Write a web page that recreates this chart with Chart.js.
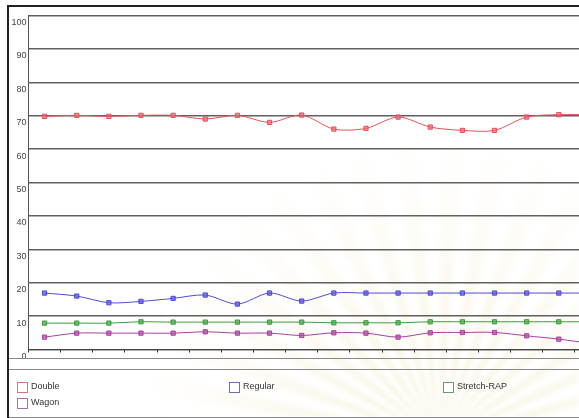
<!DOCTYPE html>
<html>
<head>
<meta charset="utf-8">
<script src="https://cdn.jsdelivr.net/npm/chart.js@4"></script>
<style>
    html, body {
        margin: 0;
        padding: 0;
        width: 579px;
        height: 418px;
        overflow: hidden;
        background: #fff;
        font-family: "Liberation Sans", Arial, sans-serif;
    }
    /* faint sunburst watermark behind the chart */
    #wash {
        position: absolute;
        left: 0;
        top: 0;
        width: 579px;
        height: 418px;
        filter: blur(2px);
        background: repeating-conic-gradient(from 0deg at 440px 440px, rgba(236, 222, 170, 0.32) 0deg 4deg, rgba(255, 255, 255, 0) 5deg 9deg);
        -webkit-mask-image: radial-gradient(circle at 440px 440px, rgba(0, 0, 0, 0.9) 60px, rgba(0, 0, 0, 0.45) 170px, rgba(0, 0, 0, 0) 300px);
        mask-image: radial-gradient(circle at 440px 440px, rgba(0, 0, 0, 0.9) 60px, rgba(0, 0, 0, 0.45) 170px, rgba(0, 0, 0, 0) 300px);
    }
    #frame {
        position: absolute;
        left: 7px;
        top: 5px;
        width: 700px;
        height: 430px;
        border-left: 2px solid #222;
        border-top: 2px solid #222;
    }
    #plot {
        position: absolute;
        left: 9px;
        top: 7px;
    }
    #chartBottom {
        position: absolute;
        left: 9px;
        top: 358px;
        width: 620px;
        border-top: 1px solid #888;
    }
    #legend {
        position: absolute;
        left: 9px;
        top: 369px;
        width: 620px;
        height: 47px;
        border-top: 1px solid #888;
        border-bottom: 1px solid #888;
    }
    .item {
        position: absolute;
        height: 11px;
        font-size: 9px;
        line-height: 11px;
        color: #333;
        white-space: nowrap;
    }
    .item .box {
        position: absolute;
        left: 0;
        top: 0;
        width: 9px;
        height: 9px;
        border: 1px solid;
        background: rgba(255, 255, 255, 0.6);
    }
    .item .txt {
        position: absolute;
        left: 14px;
        top: -1px;
    }
</style>
</head>
<body>
<div id="wash"></div>
<div id="frame"></div>
<canvas id="plot" width="603" height="352"></canvas>
<div id="chartBottom"></div>
<div id="legend"></div>

<script>
// 18 categories, the last one is cut off by the right edge of the picture
const categories = ["1", "2", "3", "4", "5", "6", "7", "8", "9",
    "10", "11", "12", "13", "14", "15", "16", "17", "18"];

const doubleValues = [69.8, 70.1, 69.8, 70.1, 70.1, 69.0, 70.1, 68.0, 70.2,
    66.0, 66.2, 69.6, 66.6, 65.6, 65.6, 69.6, 70.3, 70.3];
const regularValues = [16.9, 16.0, 14.0, 14.4, 15.3, 16.3, 13.6, 16.9, 14.5,
    16.9, 16.9, 16.9, 16.9, 16.9, 16.9, 16.9, 16.9, 16.9];
const stretchRapValues = [7.9, 7.9, 7.9, 8.3, 8.2, 8.2, 8.2, 8.2, 8.2,
    8.0, 8.0, 8.0, 8.3, 8.3, 8.3, 8.3, 8.3, 8.3];
const wagonValues = [3.7, 4.9, 4.9, 4.9, 4.9, 5.3, 4.9, 4.9, 4.2,
    5.0, 4.9, 3.7, 5.0, 5.1, 5.1, 4.1, 3.1, 1.8];

const yMin = 0;
const yMax = 100;
const yStep = 10;

const makeSeries = (label, data, line, fill, boxColor) => {
    return {
        label: label,
        data: data,
        borderColor: line,
        borderWidth: 1,
        tension: 0.3,
        pointStyle: "rect",
        pointRadius: 3,
        pointBorderWidth: 1,
        pointBorderColor: line,
        pointBackgroundColor: fill,
        legendBox: boxColor
    };
};

const ctx = document.getElementById("plot");
const chart = new Chart(ctx, {
    type: "line",
    data: {
        labels: categories,
        datasets: [
            makeSeries("Double", doubleValues, "#e8505a", "rgba(240, 100, 110, 0.7)", "#e07070"),
            makeSeries("Regular", regularValues, "#4c4cd6", "rgba(90, 90, 225, 0.75)", "#6c6cc0"),
            makeSeries("Stretch-RAP", stretchRapValues, "#3c9c3c", "rgba(80, 170, 80, 0.75)", "#6a9a6a"),
            makeSeries("Wagon", wagonValues, "#a8409c", "rgba(175, 80, 165, 0.75)", "#a070b0")
        ]
    },
    options: {
        responsive: false,
        animation: false,
        layout: {
            padding: { top: 8.5, right: 3, left: 0, bottom: 0 }
        },
        plugins: {
            legend: { display: false },
            tooltip: { enabled: false }
        },
        scales: {
            x: {
                offset: true,
                grid: {
                    offset: true,
                    drawOnChartArea: false,
                    drawTicks: true,
                    tickLength: 3,
                    color: "#333"
                },
                border: { color: "#444", width: 1 },
                ticks: { display: false },
                afterFit: (scale) => { scale.height = 9.5; }
            },
            y: {
                min: yMin,
                max: yMax,
                grid: {
                    color: "#606060",
                    lineWidth: 1.4,
                    drawTicks: false
                },
                border: { color: "#555", width: 1 },
                ticks: {
                    stepSize: yStep,
                    padding: 2,
                    labelOffset: 7,
                    color: "#444",
                    font: { family: "Liberation Sans", size: 9 }
                },
                afterFit: (scale) => { scale.width = 19.5; }
            }
        }
    }
});

// legend in a three column grid, built from the datasets
const legendEl = document.getElementById("legend");
const colLeft = [8, 220, 434];
const rowTop = [12, 28];
chart.data.datasets.forEach((ds, i) => {
    const item = document.createElement("div");
    item.className = "item";
    item.style.left = colLeft[i % 3] + "px";
    item.style.top = rowTop[Math.floor(i / 3)] + "px";
    item.innerHTML = '<span class="box" style="border-color:' + ds.legendBox + '"></span>' +
        '<span class="txt">' + ds.label + "</span>";
    legendEl.appendChild(item);
});
</script>
</body>
</html>
